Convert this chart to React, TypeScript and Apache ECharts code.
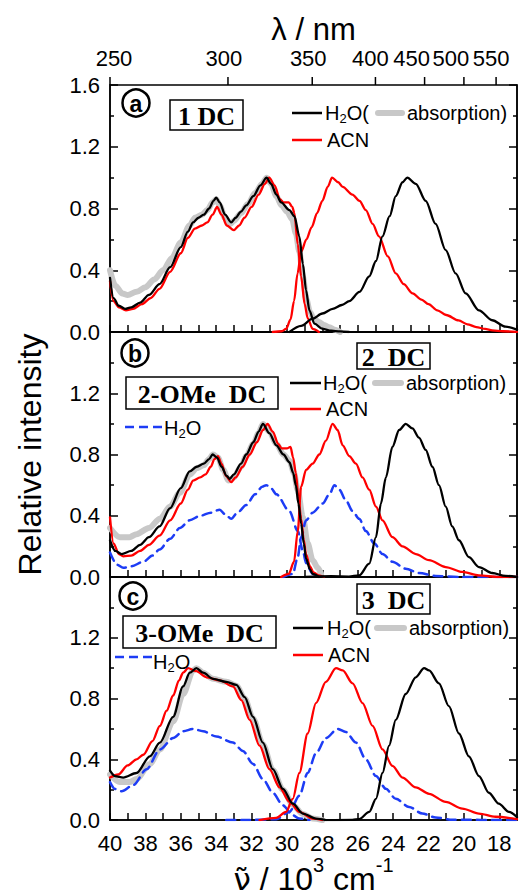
import React, { useEffect, useRef } from 'react';
import * as echarts from 'echarts';

type P = [number, number][];

// ---------- axes ----------
const X_MIN = 17;
const X_MAX = 40;
const lambdaTicks = [250, 300, 350, 400, 450, 500, 550]; // nm, top axis
const yMax = 1.6;

// ---------- panel (a) 1 DC ----------
const aGrayAbs: P = [[40,0.40],[39.7,0.30],[39.3,0.25],[39.0,0.24],[38.5,0.26],[38.0,0.29],[37.5,0.34],[37.0,0.40],[36.5,0.48],[36.0,0.58],[35.5,0.69],[35.2,0.74],[34.8,0.76],[34.5,0.79],[34.2,0.84],[34.0,0.86],[33.8,0.82],[33.5,0.74],[33.2,0.70],[33.0,0.72],[32.6,0.77],[32.2,0.83],[31.8,0.90],[31.4,0.96],[31.15,1.0],[30.9,0.96],[30.6,0.88],[30.3,0.82],[30.0,0.78],[29.7,0.73],[29.5,0.64],[29.3,0.52],[29.1,0.36],[28.9,0.21],[28.7,0.13],[28.5,0.09],[28.2,0.065],[27.9,0.045],[27.6,0.03],[27.3,0.015],[27.0,0.0]];
const aBlackAbs: P = [[40,0.35],[39.8,0.22],[39.5,0.17],[39.15,0.15],[38.8,0.16],[38.3,0.19],[37.8,0.24],[37.2,0.31],[36.6,0.42],[36.0,0.55],[35.6,0.65],[35.3,0.71],[35.0,0.74],[34.7,0.76],[34.4,0.80],[34.15,0.85],[34.0,0.87],[33.8,0.84],[33.5,0.76],[33.15,0.71],[32.9,0.74],[32.6,0.78],[32.3,0.82],[31.9,0.88],[31.5,0.95],[31.15,1.0],[30.9,0.96],[30.6,0.89],[30.33,0.84],[29.86,0.79],[29.58,0.75],[29.3,0.62],[29.1,0.44],[28.92,0.27],[28.73,0.14],[28.45,0.054],[27.98,0.02],[27.5,0.008],[27.0,0.004],[26.5,0.0]];
const aRedAbs: P = [[40,0.33],[39.8,0.20],[39.5,0.16],[39.1,0.14],[38.7,0.15],[38.2,0.18],[37.7,0.22],[37.2,0.28],[36.6,0.39],[36.0,0.51],[35.6,0.61],[35.2,0.67],[34.8,0.69],[34.5,0.71],[34.2,0.76],[33.95,0.81],[33.7,0.76],[33.4,0.69],[33.0,0.66],[32.7,0.69],[32.4,0.74],[32.0,0.81],[31.6,0.89],[31.25,0.96],[31.0,1.0],[30.7,0.95],[30.4,0.86],[30.2,0.84],[29.9,0.84],[29.7,0.81],[29.58,0.77],[29.39,0.57],[29.2,0.36],[29.0,0.18],[28.83,0.09],[28.55,0.02],[28.2,0.0]];
const aRedEm: P = [[30.8,0.0],[30.3,0.005],[30.05,0.02],[29.8,0.08],[29.6,0.2],[29.4,0.38],[29.2,0.52],[28.9,0.6],[28.6,0.68],[28.3,0.77],[28.0,0.85],[27.7,0.94],[27.45,1.0],[27.1,0.97],[26.85,0.94],[26.3,0.89],[25.9,0.85],[25.54,0.79],[25.16,0.70],[24.8,0.62],[24.3,0.49],[23.85,0.38],[23.4,0.31],[22.9,0.25],[22.4,0.21],[22.0,0.18],[21.5,0.14],[21.0,0.11],[20.3,0.075],[19.8,0.05],[19.3,0.032],[18.8,0.02],[18.4,0.01],[17.8,0.005],[17.0,0.0]];
const aBlackEm: P = [[29.86,0],[29.2,0.04],[28.55,0.086],[28.0,0.12],[27.42,0.15],[26.9,0.175],[26.48,0.2],[25.9,0.26],[25.35,0.36],[24.97,0.46],[24.6,0.62],[24.2,0.75],[23.85,0.88],[23.47,0.97],[23.2,1.0],[22.72,0.96],[22.16,0.85],[21.6,0.70],[21.03,0.53],[20.47,0.38],[19.9,0.25],[19.15,0.14],[18.4,0.076],[17.65,0.035],[17.0,0.015]];

// ---------- panel (b) 2 DC / 2-OMe DC ----------
const bGrayAbs: P = [[40,0.32],[39.44,0.26],[38.9,0.26],[38.5,0.28],[37.8,0.32],[37.18,0.38],[36.6,0.46],[36.06,0.55],[35.49,0.67],[35.1,0.71],[34.7,0.73],[34.4,0.77],[34.18,0.8],[33.9,0.78],[33.6,0.7],[33.3,0.63],[33.0,0.65],[32.6,0.72],[32.3,0.79],[31.9,0.87],[31.6,0.94],[31.36,1.0],[31.0,0.95],[30.6,0.87],[30.2,0.8],[29.86,0.76],[29.6,0.68],[29.4,0.57],[29.1,0.39],[28.83,0.22],[28.55,0.11],[28.26,0.06],[28.07,0.02]];
const bBlackAbs: P = [[40,0.24],[39.7,0.17],[39.34,0.15],[38.8,0.17],[38.3,0.21],[37.8,0.26],[37.2,0.33],[36.6,0.45],[36.0,0.58],[35.5,0.69],[35.1,0.72],[34.7,0.74],[34.4,0.77],[34.2,0.80],[33.95,0.78],[33.7,0.72],[33.4,0.66],[33.24,0.64],[33.0,0.67],[32.6,0.74],[32.3,0.8],[31.9,0.88],[31.6,0.95],[31.36,1.0],[31.0,0.94],[30.6,0.86],[30.2,0.8],[29.86,0.75],[29.65,0.68],[29.5,0.6],[29.35,0.48],[29.2,0.35],[29.05,0.22],[28.92,0.12],[28.7,0.05],[28.55,0.02],[28.2,0.0]];
const bRedAbs: P = [[40,0.39],[39.8,0.22],[39.5,0.15],[39.25,0.135],[38.8,0.14],[38.3,0.17],[37.8,0.21],[37.2,0.27],[36.6,0.37],[36.0,0.48],[35.6,0.57],[35.3,0.63],[34.9,0.65],[34.6,0.67],[34.3,0.72],[34.1,0.77],[33.9,0.79],[33.7,0.74],[33.45,0.66],[33.15,0.62],[32.9,0.65],[32.5,0.72],[32.1,0.8],[31.7,0.88],[31.35,0.96],[31.1,1.0],[30.8,0.95],[30.5,0.87],[30.3,0.84],[30.0,0.84],[29.8,0.85],[29.65,0.78],[29.5,0.68],[29.35,0.52],[29.2,0.38],[29.05,0.24],[28.92,0.15],[28.7,0.07],[28.5,0.03],[28.2,0.01],[27.9,0.0]];
const bRedEm: P = [[30.33,0],[29.9,0.02],[29.6,0.1],[29.39,0.3],[29.2,0.59],[28.92,0.70],[28.55,0.74],[28.17,0.80],[27.8,0.89],[27.42,1.0],[27.14,0.96],[26.85,0.86],[26.48,0.79],[26.1,0.74],[25.73,0.65],[25.35,0.57],[24.97,0.46],[24.6,0.37],[24.04,0.26],[23.47,0.2],[22.72,0.15],[21.97,0.11],[21.03,0.065],[20.09,0.033],[19.15,0.01],[18.03,0],[17,0]];
const bBlackEm: P = [[29.0,0],[27.5,0.005],[26.5,0.003],[25.92,0.01],[25.35,0.087],[24.97,0.26],[24.69,0.48],[24.41,0.65],[24.04,0.85],[23.66,0.96],[23.29,1.0],[22.91,0.97],[22.54,0.91],[22.16,0.83],[21.78,0.72],[21.41,0.6],[21.03,0.46],[20.66,0.33],[20.28,0.24],[19.72,0.13],[19.15,0.065],[18.4,0.026],[17.65,0.007],[17.0,0]];
const bBlueAbs: P = [[40,0.16],[39.6,0.08],[39.25,0.06],[38.8,0.07],[38.1,0.10],[37.6,0.14],[37.2,0.18],[36.6,0.25],[36.05,0.32],[35.5,0.37],[34.9,0.40],[34.3,0.42],[33.8,0.44],[33.5,0.41],[33.15,0.38],[32.8,0.42],[32.3,0.47],[31.8,0.54],[31.4,0.59],[31.17,0.60],[30.9,0.58],[30.6,0.54],[29.86,0.43],[29.39,0.30],[29.1,0.17],[28.92,0.09],[28.55,0.02],[28.2,0.0]];
const bBlueEm: P = [[30.23,0],[29.67,0.02],[29.39,0.13],[29.2,0.26],[28.92,0.37],[28.55,0.42],[27.98,0.48],[27.6,0.54],[27.32,0.60],[27.04,0.57],[26.67,0.50],[26.29,0.43],[25.92,0.38],[25.54,0.30],[25.07,0.22],[24.6,0.15],[24.04,0.10],[23.29,0.054],[22.54,0.026],[21.6,0.007],[20.28,0],[17,0]];

// ---------- panel (c) 3 DC / 3-OMe DC ----------
const cGrayAbs: P = [[40,0.30],[39.44,0.25],[38.9,0.25],[38.5,0.27],[37.75,0.37],[37.18,0.465],[36.43,0.65],[35.87,0.83],[35.3,0.985],[35.12,1.0],[34.74,0.97],[34.18,0.93],[33.43,0.91],[32.86,0.885],[32.39,0.8],[31.92,0.67],[31.36,0.5],[30.8,0.33],[30.23,0.2],[29.67,0.1],[29.1,0.04],[28.55,0.01],[28.0,0.0]];
const cBlackAbs: P = [[40,0.325],[39.72,0.29],[39.25,0.28],[38.5,0.31],[37.75,0.42],[37.18,0.51],[36.43,0.68],[35.87,0.88],[35.49,0.97],[35.12,1.0],[34.74,0.97],[34.18,0.93],[33.43,0.91],[32.86,0.89],[32.39,0.81],[31.92,0.68],[31.36,0.51],[30.8,0.335],[30.23,0.206],[29.67,0.108],[29.1,0.043],[28.36,0.01],[27.8,0]];
const cBlackEm: P = [[27.8,0],[26.3,0.002],[25.92,0.006],[25.35,0.054],[24.97,0.14],[24.6,0.31],[24.23,0.49],[23.85,0.66],[23.29,0.83],[22.72,0.94],[22.25,1.0],[21.97,0.985],[21.41,0.9],[20.85,0.75],[20.28,0.57],[19.72,0.42],[19.15,0.29],[18.59,0.18],[18.03,0.108],[17.46,0.054],[17.0,0.02]];
const cRedAbs: P = [[40,0.28],[39.53,0.30],[39.0,0.36],[38.5,0.40],[38.12,0.43],[37.6,0.52],[37.18,0.62],[36.8,0.72],[36.43,0.82],[36.1,0.92],[35.87,0.97],[35.59,1.0],[35.12,0.98],[34.55,0.94],[33.8,0.92],[33.05,0.88],[32.58,0.79],[32.11,0.66],[31.55,0.49],[30.99,0.335],[30.42,0.216],[29.86,0.12],[29.3,0.054],[28.55,0.01],[28.0,0]];
const cRedEm: P = [[31.55,0],[30.61,0.015],[30.05,0.054],[29.67,0.14],[29.3,0.31],[28.83,0.57],[28.36,0.77],[27.8,0.91],[27.23,1.0],[26.85,0.985],[26.29,0.9],[25.73,0.77],[25.16,0.62],[24.6,0.465],[24.04,0.357],[23.47,0.28],[22.72,0.216],[21.97,0.173],[21.03,0.12],[20.09,0.076],[19.15,0.043],[18.22,0.022],[17.0,0.006]];
const cBlueAbs: P = [[40,0.25],[39.72,0.205],[39.34,0.19],[38.69,0.23],[37.93,0.335],[37.18,0.465],[36.43,0.54],[35.87,0.585],[35.31,0.6],[34.74,0.585],[33.99,0.55],[33.05,0.51],[32.49,0.455],[31.92,0.37],[31.36,0.27],[30.8,0.18],[30.23,0.097],[29.67,0.032],[29.3,0.01],[28.73,0]];
const cBlueEm: P = [[33.43,0],[32.3,0],[30.61,0.006],[29.86,0.054],[29.3,0.16],[28.83,0.31],[28.36,0.44],[27.8,0.54],[27.14,0.6],[26.67,0.58],[26.1,0.51],[25.54,0.4],[24.97,0.29],[24.41,0.206],[23.85,0.14],[23.1,0.087],[22.35,0.043],[21.6,0.017],[20.66,0.002],[17.0,0]];

const SANS = "'Liberation Sans', Arial, Helvetica, sans-serif";
const SERIF = "'Liberation Serif', 'Times New Roman', serif";
const BLACK = '#000000';
const RED = '#ff0000';
const GRAY = '#c8c8c8';
const BLUE = '#1d3cf5';

const gridBoxes = [
  { left: 110, top: 85, width: 407, height: 247 },
  { left: 110, top: 332, width: 407, height: 245 },
  { left: 110, top: 577, width: 407, height: 246 },
];

// horizontal nudges of the crowded top-axis labels relative to their ticks (px)
const lambdaLabelShift = [4, -4, -4, -5, -13, -13, -5];

const panels = [
  { gray: aGrayAbs, blue: [] as P[], red: [aRedAbs, aRedEm], black: [aBlackAbs, aBlackEm] },
  { gray: bGrayAbs, blue: [bBlueAbs, bBlueEm], red: [bRedAbs, bRedEm], black: [bBlackAbs, bBlackEm] },
  { gray: cGrayAbs, blue: [cBlueAbs, cBlueEm], red: [cRedAbs, cRedEm], black: [cBlackAbs, cBlackEm] },
];

function hline(x1: number, x2: number, y: number, stroke: string, lineWidth: number, lineDash?: number[], cap = 'butt') {
  return { type: 'line', z: 100, shape: { x1, y1: y, x2, y2: y }, style: { stroke, lineWidth, lineDash, lineCap: cap } };
}
const subRich = {
  n: { fontSize: 20, fontFamily: SANS, color: BLACK, lineHeight: 24, verticalAlign: 'middle' },
  s: { fontSize: 13, fontFamily: SANS, color: BLACK, lineHeight: 13, verticalAlign: 'bottom' },
};
function txt(x: number, y: number, text: string) {
  return { type: 'text', z: 100, x, y, style: { text, fill: BLACK, font: `20px ${SANS}`, align: 'left', verticalAlign: 'middle', rich: subRich } };
}
function box(x: number, y: number, w: number, h: number, label: string) {
  return {
    type: 'group', z: 100, children: [
      { type: 'rect', z: 100, shape: { x, y, width: w, height: h }, style: { fill: '#fff', stroke: BLACK, lineWidth: 1.5 } },
      { type: 'text', z: 101, x: x + w / 2, y: y + h / 2 + 1, style: { text: label, fill: BLACK, font: `bold 26px ${SERIF}`, align: 'center', verticalAlign: 'middle' } },
    ],
  };
}
function circ(cx: number, cy: number, letter: string) {
  return {
    type: 'group', z: 100, children: [
      { type: 'circle', z: 100, shape: { cx, cy, r: 13.5 }, style: { fill: 'transparent', stroke: BLACK, lineWidth: 2.5 } },
      { type: 'text', z: 101, x: cx, y: cy + 0.5, style: { text: letter, fill: BLACK, font: `bold 23px ${SANS}`, align: 'center', verticalAlign: 'middle' } },
    ],
  };
}
function legend(lx1: number, lx2: number, y1: number, y2: number, hx: number, gx1: number, gx2: number, ax: number, cx: number) {
  return [
    hline(lx1, lx2, y1, BLACK, 2.5),
    txt(hx, y1, '{n|H}{s|2}{n|O(}'),
    hline(gx1 + 3, gx2 - 3, y1, GRAY, 6, undefined, 'round'),
    txt(ax, y1, '{n|absorption)}'),
    hline(lx1, lx2, y2, RED, 2.5),
    txt(cx, y2, '{n|ACN}'),
  ];
}

export default function App() {
  const ref = useRef<HTMLDivElement>(null);
  useEffect(() => {
    if (!ref.current) return;
    const chart = echarts.init(ref.current, undefined, { renderer: 'svg' });
    const axisLine = { show: true, lineStyle: { color: BLACK, width: 1.5 } };
    const lamW = lambdaTicks.map((l) => 10000 / l);

    const xAxis: any[] = gridBoxes.map((_, i) => ({
      type: 'value', gridIndex: i, min: X_MIN, max: X_MAX, inverse: true, interval: 1, position: 'bottom',
      axisLine,
      axisTick: { show: true, inside: true, length: 7, lineStyle: { color: BLACK, width: 1.5 } },
      axisLabel: {
        show: i === 2, color: BLACK, fontSize: 22, fontFamily: SANS, margin: 12,
        formatter: (v: number) => (Math.round(v) % 2 === 0 ? String(Math.round(v)) : ''),
      },
      splitLine: { show: false },
      ...(i === 2 ? {
        name: '{v|ν̃}{n| / 10}{p|3}{n| cm}{p|-1}', nameLocation: 'middle', nameGap: 32,
        nameTextStyle: {
          rich: {
            v: { fontSize: 31, fontFamily: "'DejaVu Sans', sans-serif", color: BLACK },
            n: { fontSize: 32, fontFamily: SANS, color: BLACK },
            p: { fontSize: 20, fontFamily: SANS, color: BLACK, padding: [0, 0, 28, 0] },
          },
        },
      } : {}),
    }));
    xAxis.push({
      type: 'value', gridIndex: 0, min: X_MIN, max: X_MAX, inverse: true, position: 'top',
      axisLine,
      axisTick: { show: false },
      axisLabel: { show: false },
      splitLine: { show: false },
      name: 'λ / nm', nameLocation: 'middle', nameGap: 40,
      nameTextStyle: { fontSize: 31, fontFamily: SANS, color: BLACK },
    });

    const yBase = (i: number, right: boolean) => ({
      type: 'value', gridIndex: i, min: 0, max: yMax, interval: 0.4, position: right ? 'right' : 'left',
      axisLine,
      axisTick: { show: true, inside: true, length: 8, lineStyle: { color: BLACK, width: 1.5 } },
      minorTick: { show: true, splitNumber: 2, length: 4, lineStyle: { color: BLACK, width: 1.5 } },
      axisLabel: {
        show: !right, color: BLACK, fontSize: 22, fontFamily: SANS, margin: 10,
        formatter: (v: number) => (i > 0 && Math.abs(v - yMax) < 1e-6 ? '' : v.toFixed(1)),
      },
      splitLine: { show: false },
      minorSplitLine: { show: false },
      ...(i === 1 && !right ? {
        name: 'Relative intensity', nameLocation: 'middle', nameGap: 64,
        nameTextStyle: { fontSize: 32, fontFamily: SANS, color: BLACK },
      } : {}),
    });
    const yAxis: any[] = [...gridBoxes.map((_, i) => yBase(i, false)), ...gridBoxes.map((_, i) => yBase(i, true))];

    const series: any[] = [];
    const mk = (i: number, data: P, color: string, width: number, type: any = 'solid') => ({
      type: 'line', xAxisIndex: i, yAxisIndex: i, data, symbol: 'none', showSymbol: false,
      smooth: 0.3, smoothMonotone: 'x', silent: true,
      lineStyle: { color, width, type, cap: 'round', join: 'round' },
    });
    panels.forEach((p, i) => {
      series.push(mk(i, p.gray, GRAY, 6));
      p.blue.forEach((d) => series.push(mk(i, d, BLUE, 2.5, [9, 6])));
      p.red.forEach((d) => series.push(mk(i, d, RED, 2.3)));
      p.black.forEach((d) => series.push(mk(i, d, BLACK, 2.3)));
    });

    chart.setOption({
      animation: false,
      backgroundColor: '#ffffff',
      grid: gridBoxes.map((g) => ({ ...g, show: true, borderColor: BLACK, borderWidth: 1.5, backgroundColor: 'transparent', containLabel: false })),
      xAxis,
      yAxis,
      series,
    });

    // top wavelength axis: ticks/labels placed through the chart's own x scale
    const topY = gridBoxes[0].top;
    const lamGraphics: any[] = [];
    lambdaTicks.forEach((l, k) => {
      const px = chart.convertToPixel({ xAxisIndex: 3 }, 10000 / l) as number;
      lamGraphics.push({ type: 'line', z: 100, shape: { x1: px, y1: topY - 8, x2: px, y2: topY }, style: { stroke: BLACK, lineWidth: 1.5 } });
      lamGraphics.push({ type: 'text', z: 100, x: px + lambdaLabelShift[k], y: topY - 27, style: { text: String(l), fill: BLACK, font: `22px ${SANS}`, align: 'center', verticalAlign: 'middle' } });
    });

    const graphic: any[] = [
      ...lamGraphics,
      circ(136, 103, 'a'),
      circ(135, 353, 'b'),
      circ(133, 596, 'c'),
      box(170, 100, 73, 30, '1 DC'),
      box(357, 343, 73, 26, '2  DC'),
      box(126, 377, 152, 32, '2-OMe  DC'),
      box(357, 584, 73, 30, '3  DC'),
      box(123, 616, 153, 32, '3-OMe  DC'),
      ...legend(292, 322, 113, 140, 325, 375, 405, 407, 327),
      ...legend(290, 321, 383, 409, 323, 372, 404, 406, 326),
      ...legend(293, 323, 628, 655, 327, 374, 407, 409, 328),
      hline(125, 162, 427, BLUE, 2.5, [9, 5]),
      txt(164, 428, '{n|H}{s|2}{n|O}'),
      hline(115, 152, 657, BLUE, 2.5, [9, 5]),
      txt(153, 662, '{n|H}{s|2}{n|O}'),
    ];
    chart.setOption({ graphic });
    return () => chart.dispose();
  }, []);
  return <div ref={ref} style={{ position: 'absolute', left: 0, top: 0, width: 526, height: 896, background: '#fff' }} />;
}
